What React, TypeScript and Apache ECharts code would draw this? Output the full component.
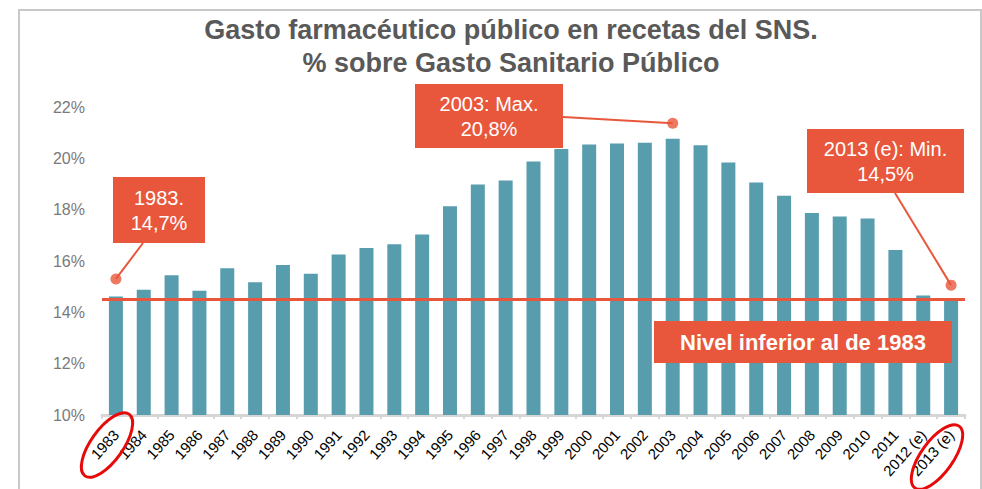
import React, { useEffect, useRef } from "react";
import * as echarts from "echarts";

const categories = [
  "1983", "1984", "1985", "1986", "1987", "1988", "1989", "1990", "1991", "1992",
  "1993", "1994", "1995", "1996", "1997", "1998", "1999", "2000", "2001", "2002",
  "2003", "2004", "2005", "2006", "2007", "2008", "2009", "2010", "2011",
  "2012 (e)", "2013 (e)",
];
const values = [
  14.62, 14.88, 15.44, 14.84, 15.72, 15.17, 15.84, 15.5, 16.25, 16.51,
  16.65, 17.03, 18.13, 18.98, 19.14, 19.88, 20.36, 20.54, 20.58, 20.61,
  20.76, 20.51, 19.84, 19.06, 18.54, 17.87, 17.73, 17.66, 16.43,
  14.66, 14.5,
];
const referenceLevel = 14.5;
const yMin = 10;
const yMax = 22;
const yInterval = 2;
const titleLines = [
  "Gasto farmacéutico público en recetas del SNS.",
  "% sobre Gasto Sanitario Público",
];
const annotationTexts = ["1983.\n14,7%", "2003: Max.\n20,8%", "2013 (e): Min.\n14,5%"];
const annotationPoints: [string, number][] = [
  ["1983", 15.3],
  ["2003", 21.37],
  ["2013 (e)", 15.06],
];
const levelText = "Nivel inferior al de 1983";

const RED = "#e8573c";
const BAR = "#589dae";
const FONT = "'Liberation Sans', Arial, Helvetica, sans-serif";

export default function App() {
  const ref = useRef<HTMLDivElement>(null);
  useEffect(() => {
    if (!ref.current) return;
    const chart = echarts.init(ref.current, undefined, { renderer: "svg" });
    chart.setOption({
      animation: false,
      backgroundColor: "#ffffff",
      grid: { left: 102, right: 17, top: 107, bottom: 74 },
      xAxis: {
        type: "category",
        data: categories,
        boundaryGap: true,
        axisLine: { lineStyle: { color: "#d6d6d6", width: 3 } },
        axisTick: { show: true, length: 4, lineStyle: { color: "#d6d6d6", width: 2 } },
        axisLabel: {
          interval: 0,
          rotate: 48,
          margin: 17,
          color: "#000",
          fontSize: 15,
          fontFamily: FONT,
        },
      },
      yAxis: {
        type: "value",
        min: yMin,
        max: yMax,
        interval: yInterval,
        splitLine: { show: false },
        axisLine: { show: false },
        axisTick: { show: false },
        axisLabel: {
          formatter: "{value}%",
          color: "#7a7a7a",
          fontSize: 16,
          margin: 17,
          fontFamily: FONT,
        },
      },
      series: [
        {
          type: "bar",
          data: values,
          barWidth: 14,
          itemStyle: { color: BAR },
          markLine: {
            silent: true,
            symbol: "none",
            label: { show: false },
            lineStyle: { color: RED, width: 3, type: "solid" },
            data: [{ yAxis: referenceLevel }],
            z: 5,
          },
        },
        {
          type: "scatter",
          data: annotationPoints,
          symbolSize: 11,
          itemStyle: { color: RED },
          z: 20,
        },
      ],
    });

    const px = annotationPoints.map((p) =>
      chart.convertToPixel({ xAxisIndex: 0, yAxisIndex: 0 }, p as any) as number[]
    );
    const boxes = [
      { x: 113, y: 177, w: 92, h: 66, ax: 143, ay: 243 },
      { x: 415, y: 84, w: 148, h: 64, ax: 563, ay: 117 },
      { x: 807, y: 129, w: 157, h: 64, ax: 895, ay: 193 },
    ];
    const graphics: any[] = [
      {
        type: "rect",
        z: -10,
        silent: true,
        shape: { x: 19, y: 10, width: 962, height: 500 },
        style: { fill: "none", stroke: "#c8c8c8", lineWidth: 2 },
      },
      {
        type: "text",
        z: 100,
        x: 511,
        y: 13,
        style: {
          text: titleLines.join("\n"),
          textAlign: "center",
          fill: "#595959",
          font: `bold 27px ${FONT}`,
          lineHeight: 33,
        },
      },
    ];
    boxes.forEach((b, i) => {
      graphics.push({
        type: "line",
        z: 90,
        shape: { x1: b.ax, y1: b.ay, x2: px[i][0], y2: px[i][1] },
        style: { stroke: RED, lineWidth: 2 },
      });
      graphics.push({
        type: "rect",
        z: 100,
        shape: { x: b.x, y: b.y, width: b.w, height: b.h },
        style: { fill: RED },
      });
      graphics.push({
        type: "text",
        z: 101,
        x: b.x + b.w / 2,
        y: b.y + b.h / 2,
        style: {
          text: annotationTexts[i],
          textAlign: "center",
          textVerticalAlign: "middle",
          fill: "#ffffff",
          font: `20px ${FONT}`,
          lineHeight: 25,
        },
      });
    });
    graphics.push({
      type: "rect",
      z: 100,
      shape: { x: 654, y: 321, width: 298, height: 42 },
      style: { fill: RED },
    });
    graphics.push({
      type: "text",
      z: 101,
      x: 803,
      y: 342,
      style: {
        text: levelText,
        textAlign: "center",
        textVerticalAlign: "middle",
        fill: "#ffffff",
        font: `bold 22px ${FONT}`,
      },
    });
    graphics.push({
      type: "ellipse",
      z: 110,
      x: 107,
      y: 445,
      rotation: 0.95,
      shape: { cx: 0, cy: 0, rx: 38, ry: 16 },
      style: { fill: "none", stroke: "#e60a0a", lineWidth: 3 },
    });
    graphics.push({
      type: "ellipse",
      z: 110,
      x: 937,
      y: 457,
      rotation: 0.95,
      shape: { cx: 0, cy: 0, rx: 38, ry: 16 },
      style: { fill: "none", stroke: "#e60a0a", lineWidth: 3 },
    });
    chart.setOption({ graphic: graphics });

    return () => chart.dispose();
  }, []);
  return (
    <div
      ref={ref}
      style={{ position: "fixed", left: 0, top: 0, width: 982, height: 489 }}
    />
  );
}
